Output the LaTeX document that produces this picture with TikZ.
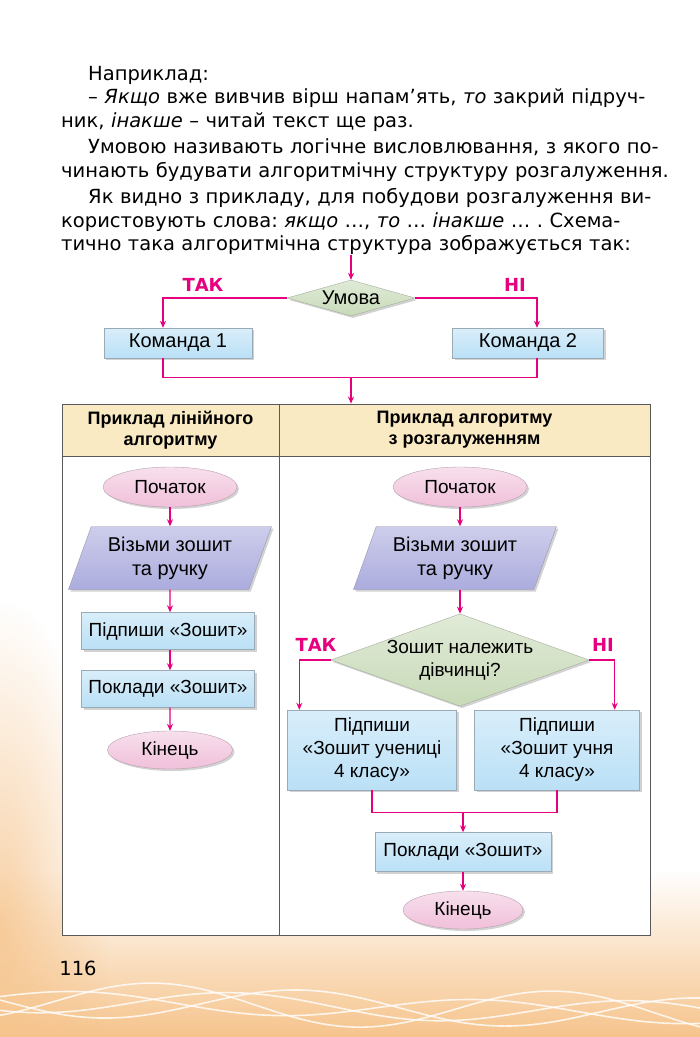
\documentclass[tikz,border=0pt]{standalone}
\usepackage{fontspec}
\setmainfont{Liberation Sans}
\newfontfamily\bodyfont{DejaVu Sans}
\usetikzlibrary{shapes.geometric,shadows,arrows.meta,fadings}
\definecolor{arrowmag}{RGB}{230,0,126}
\definecolor{boxblue}{RGB}{186,224,246}
\definecolor{ovalpink}{RGB}{240,192,218}
\definecolor{condgreen}{RGB}{200,218,184}
\definecolor{inputlav}{RGB}{172,172,222}
\definecolor{headbeige}{RGB}{250,234,196}
\definecolor{pagepeach}{RGB}{246,196,140}
\tikzfading[name=softspot, inner color=transparent!0, outer color=transparent!100]
\begin{document}
\begin{tikzpicture}[x=1pt, y=-1pt, every node/.style={font=\fontsize{19}{23}\selectfont}]
  \tikzstyle{cmd}=[draw=boxblue!45!gray, top color=boxblue!55, bottom color=boxblue, align=center, inner sep=3pt, drop shadow={shadow xshift=2pt, shadow yshift=-2pt, opacity=0.35}]
  \tikzstyle{term}=[ellipse, draw=ovalpink!50!gray, top color=ovalpink!50, bottom color=ovalpink, inner sep=1pt, drop shadow={shadow xshift=2pt, shadow yshift=-2pt, opacity=0.35}]
  \tikzstyle{cond}=[diamond, draw=condgreen!50!gray, top color=condgreen!55, bottom color=condgreen, align=center, inner sep=0pt, drop shadow={shadow xshift=2pt, shadow yshift=-2pt, opacity=0.35}]
  \tikzstyle{io}=[trapezium, trapezium left angle=63, trapezium right angle=117, trapezium stretches body, draw=inputlav!50!gray, top color=inputlav!60, bottom color=inputlav, align=center, minimum width=203pt, minimum height=63pt, inner sep=1pt, font=\fontsize{20}{24}\selectfont, drop shadow={shadow xshift=2pt, shadow yshift=-2pt, opacity=0.35}]
  \tikzstyle{head}=[fill=headbeige, draw=gray!70!black, line width=0.8pt, align=center, font=\fontsize{18}{21}\selectfont\bfseries]
  \tikzstyle{flow}=[draw=arrowmag, line width=1.4pt, -{Stealth[length=7pt,width=6pt]}]
  \tikzstyle{wire}=[draw=arrowmag, line width=1.4pt]
  \tikzstyle{branch}=[text=arrowmag, font=\fontsize{18}{22}\bodyfont\bfseries]
  \useasboundingbox (0,0) rectangle (700,1037);
  \fill[white] (0,0) rectangle (700,1037);
  \fill[pagepeach, path fading=north] (0,870) rectangle (700,1037);
  \fill[pagepeach, opacity=0.8, path fading=softspot] (0,930) ellipse [x radius=110, y radius=330];
  \foreach \ph/\amp in {0/16, 60/12, 130/20, 200/10}
    \draw[white, line width=1.6pt, opacity=0.8, domain=0:700, samples=80] plot (\x, {1000+\amp*sin(\x*0.9+\ph)+0.02*\x});

  \node[anchor=north west, text width=588pt, align=left, inner sep=0pt, font=\fontsize{19.5}{23.5}\bodyfont\frenchspacing] (intro) at (61,66) {%
    \hspace*{27pt}Наприклад:\\
    \makebox[588pt][s]{\hspace*{27pt}– \textit{Якщо} вже вивчив вірш напам’ять, \textit{то} закрий підруч-}\\
    ник, \textit{інакше} – читай текст ще раз.\\[3pt]
    \makebox[588pt][s]{\hspace*{27pt}Умовою називають логічне висловлювання, з якого по-}\\
    \makebox[588pt][s]{чинають будувати алгоритмічну структуру розгалуження.}\\[3pt]
    \makebox[588pt][s]{\hspace*{27pt}Як видно з прикладу, для побудови розгалуження ви-}\\
    \makebox[588pt][s]{користовують слова: \textit{якщо} …, \textit{то} … \textit{інакше} … . Схема-}\\
    тично така алгоритмічна структура зображується так:};

  \coordinate (in0) at (351,255);
  \node[cond, aspect=3.5, minimum width=128pt, minimum height=36pt, font=\fontsize{20}{24}\selectfont] (umova) at (351,298) {Умова};
  \node[cmd, minimum width=148pt, minimum height=30pt, font=\fontsize{20}{24}\selectfont] (cmd1) at (178,343) {Команда 1};
  \node[cmd, minimum width=151pt, minimum height=30pt, font=\fontsize{20}{24}\selectfont] (cmd2) at (528,343) {Команда 2};
  \node[branch] (yes0) at (203,285) {ТАК};
  \node[branch] (no0) at (515,285) {НІ};
  \draw[flow] (in0) -- (umova.north);
  \draw[flow] (umova.west) -| ([xshift=-15pt]cmd1.north);
  \draw[flow] (umova.east) -| ([xshift=9pt]cmd2.north);
  \draw[wire] ([xshift=-15pt]cmd1.south) -- ++(0,19) -| ([xshift=9pt]cmd2.south);
  \coordinate (join0) at (351,377);

  \node[head, minimum width=217pt, minimum height=52pt] (h1) at (170.5,430) {Приклад лінійного\\алгоритму};
  \node[head, minimum width=371pt, minimum height=52pt] (h2) at (464.5,430) {Приклад алгоритму\\з розгалуженням};
  \draw[gray!70!black, line width=0.8pt, fill=white] (62,456) rectangle (650,935);
  \draw[gray!70!black, line width=0.8pt] (279,456) -- (279,935);
  \draw[flow] (join0) -- (join0 |- h2.north);

  \node[term, minimum width=134pt, minimum height=40pt] (start1) at (170,487) {Початок};
  \node[io] (in1) at (170,558) {Візьми зошит\\та ручку};
  \node[cmd, minimum width=173pt, minimum height=37pt] (sign1) at (168,631) {Підпиши «Зошит»};
  \node[cmd, minimum width=173pt, minimum height=37pt] (put1) at (168,689) {Поклади «Зошит»};
  \node[term, minimum width=125pt, minimum height=38pt] (end1) at (170,750) {Кінець};
  \draw[flow] (start1) -- (in1);
  \draw[flow] (in1) -- (in1.south |- sign1.north);
  \draw[flow] (in1.south |- sign1.south) -- (in1.south |- put1.north);
  \draw[flow] (in1.south |- put1.south) -- (end1);

  \node[term, minimum width=134pt, minimum height=40pt] (start2) at (460,487) {Початок};
  \node[io] (in2) at (455,558) {Візьми зошит\\та ручку};
  \node[cond, aspect=2.8] (cond2) at (460,660) {Зошит належить\\дівчинці?};
  \node[branch] (yes1) at (316,645) {ТАК};
  \node[branch] (no1) at (603,645) {НІ};
  \node[cmd, minimum width=169pt, minimum height=80pt] (girl) at (372,750) {Підпиши\\«Зошит учениці\\4 класу»};
  \node[cmd, minimum width=165pt, minimum height=80pt] (boy) at (557,750) {Підпиши\\«Зошит учня\\4 класу»};
  \node[cmd, minimum width=176pt, minimum height=39pt] (put2) at (463,852) {Поклади «Зошит»};
  \node[term, minimum width=120pt, minimum height=38pt] (end2) at (463,910) {Кінець};
  \draw[flow] (start2) -- (start2 |- in2.north);
  \draw[flow] (start2 |- in2.south) -- (cond2);
  \draw[flow] (cond2.west) -| ([xshift=12pt]girl.north west);
  \draw[flow] (cond2.east) -| ([xshift=-25pt]boy.north east);
  \draw[wire] (girl.south) -- ++(0,22) -| (boy.south);
  \coordinate (join2) at (463,812);
  \draw[flow] (join2) -- (put2);
  \draw[flow] (put2) -- (end2);

  \node[font=\fontsize{19.5}{24}\bodyfont] (page) at (78,968) {116};
\end{tikzpicture}
\end{document}
